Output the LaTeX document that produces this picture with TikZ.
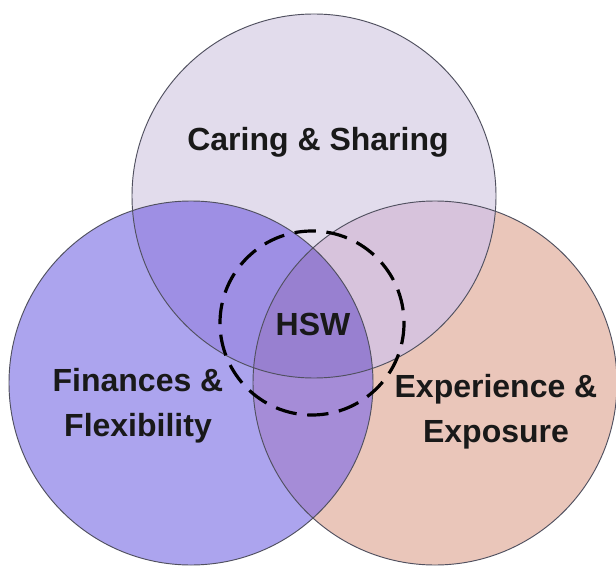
\documentclass[tikz,border=0pt]{standalone}
\usepackage{fontspec}
\setmainfont{Liberation Sans}
\definecolor{cT}{RGB}{226,220,236}
\definecolor{cL}{RGB}{172,164,238}
\definecolor{cR}{RGB}{234,198,186}
\definecolor{cTL}{RGB}{158,143,228}
\definecolor{cLR}{RGB}{165,140,215}
\definecolor{cTR}{RGB}{215,195,220}
\definecolor{cTLR}{RGB}{152,128,208}
\definecolor{edge}{RGB}{80,80,95}
\begin{document}
\begin{tikzpicture}[x=0.75pt,y=-0.75pt,
  lab/.style={font=\fontsize{24}{34}\selectfont\bfseries, align=center, text=black!90, inner sep=0pt},
  ring/.style={draw=edge, line width=0.7pt}]
\useasboundingbox (0,0) rectangle (616,566);
\fill[white] (0,0) rectangle (616,566);
% base fills
\fill[cR] (435,383) circle[radius=182];
\fill[cL] (191,383) circle[radius=182];
\fill[cT] (314,196) circle[radius=182];
% pairwise overlaps
\begin{scope}
  \clip (314,196) circle[radius=182];
  \fill[cTL] (191,383) circle[radius=182];
  \fill[cTR] (435,383) circle[radius=182];
\end{scope}
\begin{scope}
  \clip (191,383) circle[radius=182];
  \fill[cLR] (435,383) circle[radius=182];
\end{scope}
\begin{scope}
  \clip (314,196) circle[radius=182];
  \clip (191,383) circle[radius=182];
  \fill[cTLR] (435,383) circle[radius=182];
\end{scope}
% outlines
\draw[ring] (314,196) circle[radius=182];
\draw[ring] (191,383) circle[radius=182];
\draw[ring] (435,383) circle[radius=182];
% dashed HSW circle
\draw[black, line width=2.4pt, dash pattern=on 16pt off 8pt] (312,323) circle[radius=92];
% labels
\node[lab] (care) at (318,142) {Caring \& Sharing};
\node[lab] (hsw) at (313,324) {HSW};
\node[lab] (fin) at (138,406) {Finances \&\\Flexibility};
\node[lab] (exp) at (496,412) {Experience \&\\Exposure};
\end{tikzpicture}
\end{document}
